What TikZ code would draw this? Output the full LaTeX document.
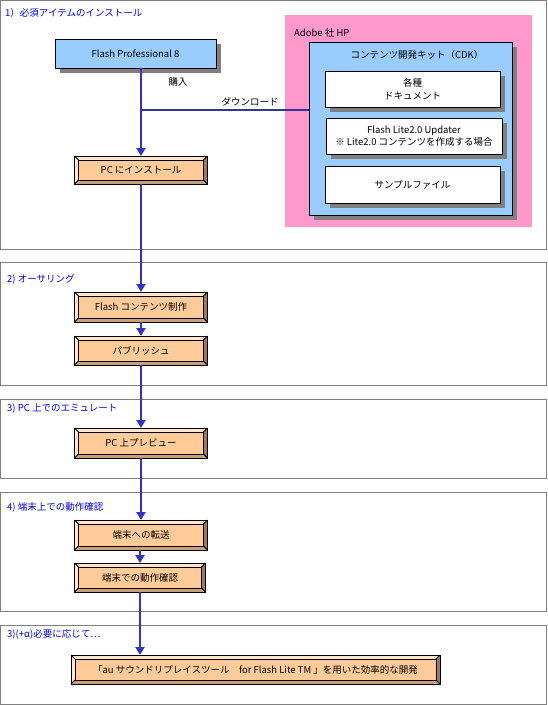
\documentclass[tikz,border=0pt]{standalone}
\usepackage{fontspec}
\setmainfont{Noto Sans CJK JP}
\usetikzlibrary{arrows.meta,calc,shadows}
\definecolor{secline}{RGB}{128,128,128}
\definecolor{seccol}{RGB}{0,0,255}
\definecolor{flowcol}{RGB}{51,51,204}
\definecolor{dlcol}{RGB}{51,51,153}
\definecolor{boxface}{RGB}{255,204,153}
\definecolor{bevlight}{RGB}{255,230,204}
\definecolor{bevmid}{RGB}{200,160,120}
\definecolor{bevdark}{RGB}{160,120,90}
\definecolor{skyblue}{RGB}{153,204,255}
\definecolor{hppink}{RGB}{255,153,204}
\definecolor{figshadow}{RGB}{128,128,128}
\tikzset{
  secbox/.style ={draw=secline, line width=1pt},
  seclab/.style ={font=\fontsize{9.5}{11}\selectfont, text=seccol, anchor=west, inner sep=0pt},
  txt/.style    ={font=\fontsize{9.5}{12.5}\selectfont, inner sep=0pt, align=center},
  flowbox/.style={txt, fill=boxface, draw=black, line width=1pt, outer sep=0pt,
                  minimum width=133pt, minimum height=30pt},
  shbox/.style  ={txt, draw=black, line width=1pt, outer sep=0pt,
                  drop shadow={shadow xshift=5pt, shadow yshift=-5pt, fill=figshadow, opacity=1}},
  bevline/.style={draw=black, line width=0.8pt},
  flow/.style   ={draw=flowcol, line width=2pt, -{Triangle[length=8pt,width=9pt]}},
  dl/.style     ={draw=dlcol, line width=2pt},
}
\newcommand\bevel[1]{%
  \fill[bevlight] (#1.north west) -- (#1.north east) -- ([shift={(-4pt,-4pt)}]#1.north east) -- ([shift={(4pt,-4pt)}]#1.north west) -- cycle;
  \fill[bevlight] (#1.north west) -- ([shift={(4pt,-4pt)}]#1.north west) -- ([shift={(4pt,4pt)}]#1.south west) -- (#1.south west) -- cycle;
  \fill[bevmid] (#1.south west) -- ([shift={(4pt,4pt)}]#1.south west) -- ([shift={(-4pt,4pt)}]#1.south east) -- (#1.south east) -- cycle;
  \fill[bevdark] (#1.south east) -- ([shift={(-4pt,4pt)}]#1.south east) -- ([shift={(-4pt,-4pt)}]#1.north east) -- (#1.north east) -- cycle;
  \draw[bevline] ([shift={(4pt,-4pt)}]#1.north west) rectangle ([shift={(-4pt,4pt)}]#1.south east);
  \draw[bevline] (#1.north west) -- ++(4pt,-4pt);
  \draw[bevline] (#1.north east) -- ++(-4pt,-4pt);
  \draw[bevline] (#1.south west) -- ++(4pt,4pt);
  \draw[bevline] (#1.south east) -- ++(-4pt,4pt);
  \draw[draw=black, line width=1pt] (#1.north west) rectangle (#1.south east);
}

\begin{document}
\begin{tikzpicture}[x=1pt, y=-1pt]
  \useasboundingbox[fill=white] (0,0) rectangle (547,705);
  % section frames
  \draw[secbox] (0.5,0.5) rectangle (546.5,249);
  \draw[secbox] (0.5,262) rectangle (546.5,385);
  \draw[secbox] (0.5,399) rectangle (546.5,478);
  \draw[secbox] (0.5,492) rectangle (546.5,611);
  \draw[secbox] (0.5,625) rectangle (546.5,704.5);
  \node[seclab] (s1) at (5,13) {1）必須アイテムのインストール};
  \node[seclab] (s2) at (7,279) {2) オーサリング};
  \node[seclab] (s3) at (7,409) {3) PC 上でのエミュレート};
  \node[seclab] (s4) at (7,507) {4) 端末上での動作確認};
  \node[seclab] (s5) at (7,634) {3)(+α)必要に応じて…};

  % Adobe HP
  \fill[hppink] (285,15) rectangle (532,227);
  \node[txt, anchor=west] (hp) at (294,33) {Adobe 社 HP};
  \node[shbox, fill=skyblue, minimum width=203pt, minimum height=173pt] (cdk) at (410.5,128.5) {};
  \node[txt] (cdkt) at (417,55) {コンテンツ開発キット（CDK）};
  \node[shbox, fill=white, minimum width=175pt, minimum height=36pt] (doc) at (412.5,89) {各種\\ドキュメント};
  \node[shbox, fill=white, minimum width=176pt, minimum height=36pt] (upd) at (414,136) {Flash Lite2.0 Updater\\※ Lite2.0 コンテンツを作成する場合};
  \node[shbox, fill=white, minimum width=175pt, minimum height=37pt] (smp) at (412.5,184.5) {サンプルファイル};

  % flow
  \node[shbox, fill=skyblue, minimum width=161pt, minimum height=29pt] (fp) at (135.5,53.5) {Flash Professional 8};
  \node[flowbox, minimum height=28pt] (inst) at (141,170) {};
  \bevel{inst}
  \node[txt] at (inst) {PC にインストール};
  \node[flowbox] (fc) at (141,307) {};
  \bevel{fc}
  \node[txt] at (fc) {Flash コンテンツ制作};
  \node[flowbox, minimum height=29pt] (pub) at (141,350.5) {};
  \bevel{pub}
  \node[txt] at (pub) {パブリッシュ};
  \node[flowbox] (prev) at (141,443) {};
  \bevel{prev}
  \node[txt] at (prev) {PC 上プレビュー};
  \node[flowbox] (tr) at (141,535) {};
  \bevel{tr}
  \node[txt] at (tr) {端末への転送};
  \node[flowbox, minimum width=131pt, minimum height=29pt] (chk) at (140,577.5) {};
  \bevel{chk}
  \node[txt] at (chk) {端末での動作確認};
  \node[flowbox, minimum width=369pt, minimum height=29pt] (final) at (255.5,669.5) {};
  \bevel{final}
  \node[txt] at (final) {「au サウンドリプレイスツール　for Flash Lite TM 」を用いた効率的な開発};

  \coordinate (br) at (141,110);
  \draw[dl] (br) -- (br -| cdk.west);
  \draw[flow] (fp.south -| inst.north) -- (inst.north);
  \node[txt] (buy) at (178,82) {購入};
  \node[txt] (dltxt) at (250,102) {ダウンロード};
  \draw[flow] (inst.south) -- (fc.north);
  \draw[flow] (fc.south) -- (pub.north);
  \draw[flow] (pub.south) -- (prev.north);
  \draw[flow] (prev.south) -- (tr.north);
  \draw[flow] (tr.south -| chk.north) -- (chk.north);
  \draw[flow] (chk.south) -- (final.north -| chk.south);
\end{tikzpicture}
\end{document}
